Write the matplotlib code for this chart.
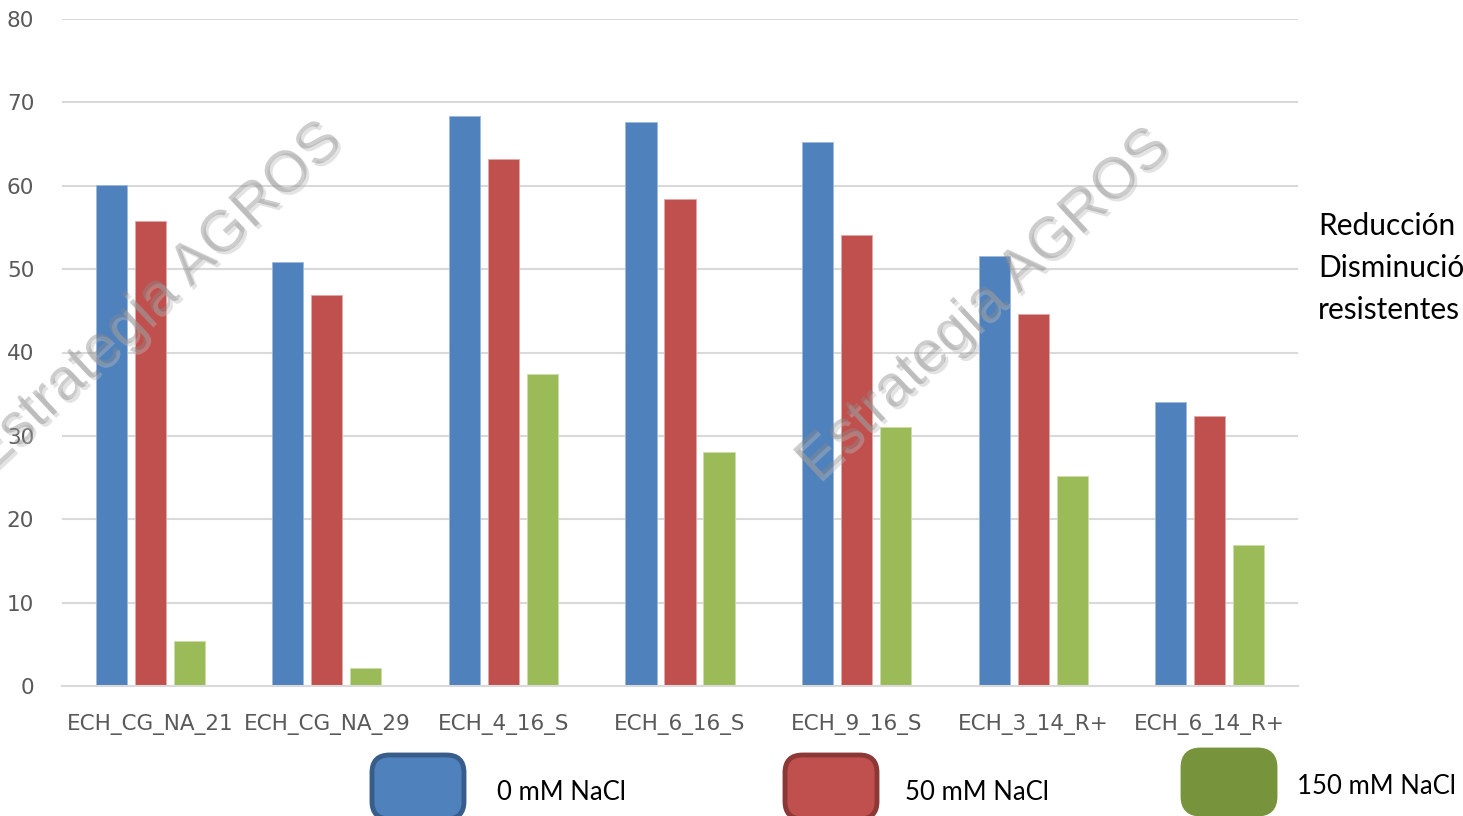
import numpy as np
import matplotlib
matplotlib.use('Agg')
import matplotlib.pyplot as plt
from matplotlib.patches import FancyBboxPatch
from matplotlib import patheffects

# germination (%) per line under three salt levels
lines = ['ECH_CG_NA_21', 'ECH_CG_NA_29', 'ECH_4_16_S', 'ECH_6_16_S',
         'ECH_9_16_S', 'ECH_3_14_R+', 'ECH_6_14_R+']
nacl_0 = [60.1, 50.9, 68.4, 67.7, 65.3, 51.6, 34.1]
nacl_50 = [55.8, 46.9, 63.2, 58.4, 54.1, 44.6, 32.4]
nacl_150 = [5.4, 2.2, 37.4, 28.1, 31.1, 25.2, 16.9]
series_names = ['0 mM NaCl', '50 mM NaCl', '150 mM NaCl']

blue, red, green = '#4f81bd', '#c0504d', '#9bbb59'

fig = plt.figure(figsize=(14.63, 8.16), dpi=100)
ax = fig.add_axes([62/1463, 130/816, 1236/1463, 667/816])

x = np.arange(len(lines))
w = 0.176
off = 0.221
ax.bar(x - off, nacl_0, w, color=blue, edgecolor='#9db8dc', linewidth=0.6, zorder=2)
ax.bar(x, nacl_50, w, color=red, edgecolor='#e0a9a7', linewidth=0.6, zorder=2)
ax.bar(x + off, nacl_150, w, color=green, edgecolor='#cbdcaa', linewidth=0.6, zorder=2)

ax.set_xlim(-0.5, len(lines) - 0.5)
ax.set_ylim(0, 80)
ax.set_yticks(range(0, 81, 10))
ax.set_xticks(x)
ax.set_xticklabels(lines)
ax.yaxis.grid(True, color='#d9d9d9', linewidth=1.5, zorder=0)
ax.set_axisbelow(True)
for s in ['top', 'right', 'left']:
    ax.spines[s].set_visible(False)
ax.spines['bottom'].set_color('#d9d9d9')
ax.spines['bottom'].set_linewidth(1.5)
ax.tick_params(length=0, labelsize=15.5, labelcolor='#595959')
ax.tick_params(axis='x', pad=20)
ax.tick_params(axis='y', pad=20)

# watermark
wm_fx = [patheffects.withSimplePatchShadow(offset=(2, -2), shadow_rgbFace='#bbbbbb', alpha=0.4)]
for cx, cy in [(0.107, 0.634), (0.673, 0.626)]:
    fig.text(cx, cy, 'Estrategia AGROS', fontsize=42, family='Liberation Sans',
             color='#8a8a8a', alpha=0.42, rotation=43, ha='center', va='center',
             zorder=10, path_effects=wm_fx)

# side note, runs off the right edge
fig.text(1318/1463, 1 - 212/816, 'Reducción\nDisminución\nresistentes',
         fontsize=21.5, family='Lato', color='black', va='top', ha='left',
         linespacing=1.6)

# legend boxes
legend = [(372, 753, blue, '#385d8a', 497, 793),
          (785, 753, red, '#8c3836', 905, 793),
          (1183, 748, '#77933c', '#77933c', 1297, 786)]
for (bx, by, fc, ec, tx, ty), name in zip(legend, series_names):
    box = FancyBboxPatch((bx/1463, 1 - (by + 66)/816), 92/1463, 64/816,
                         boxstyle='round,pad=0,rounding_size=0.012',
                         transform=fig.transFigure, facecolor=fc, edgecolor=ec,
                         linewidth=3.5, mutation_aspect=1463/816)
    fig.patches.append(box)
    fig.text(tx/1463, 1 - ty/816, name, fontsize=18.5, family='Lato',
             color='black', va='center', ha='left')

fig.savefig('out.png', dpi=100)
